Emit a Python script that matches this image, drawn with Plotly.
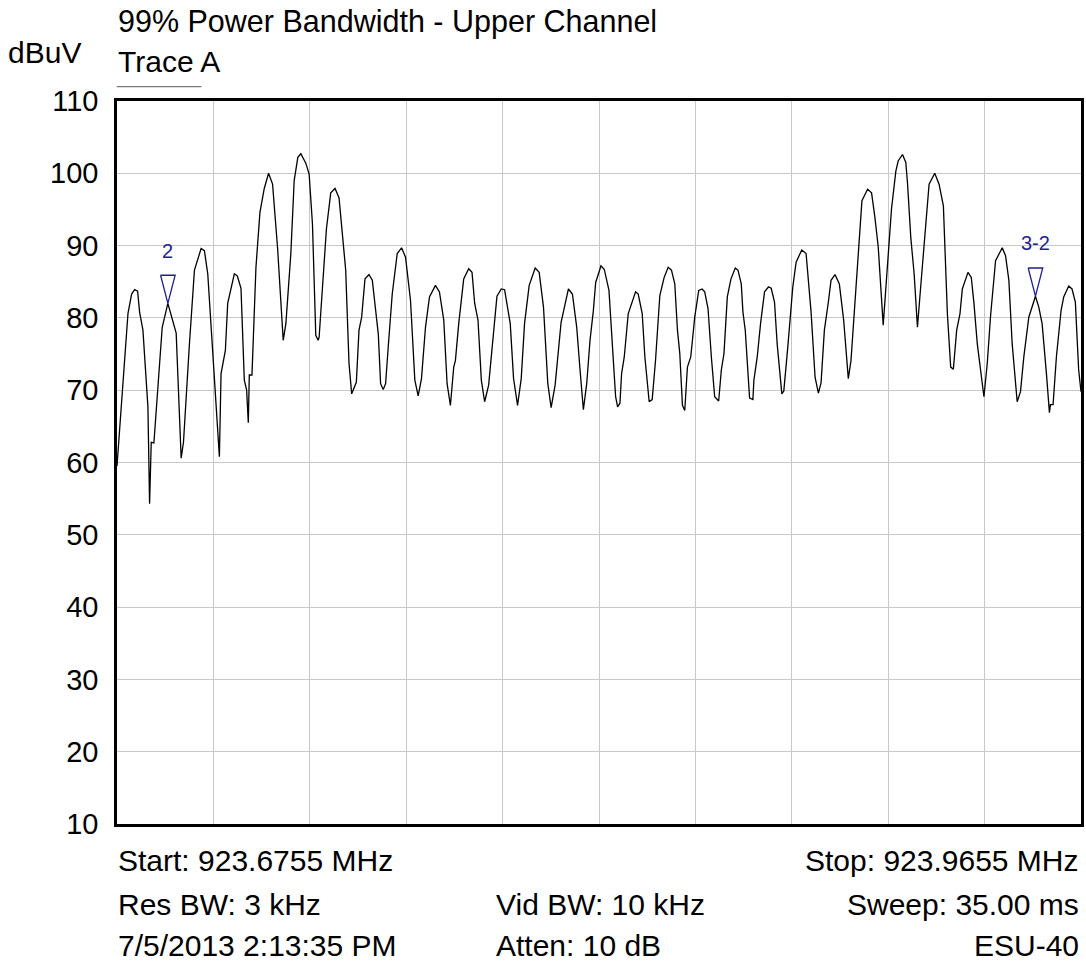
import plotly.graph_objects as go

# ---- data ----
start_mhz = 923.6755
stop_mhz = 923.9655

# offsets from start frequency, kHz
offset_khz = [
    0.0, 2.3, 3.3, 4.4, 5.3, 6.2, 6.8, 7.8, 9.3, 9.8, 10.3, 11.1, 12.8, 13.6, 15.3, 16.8, 17.8, 19.3, 20.0, 21.8,
    23.3, 25.3, 26.3, 27.3, 28.8, 30.8, 31.3, 32.6, 33.3, 35.3, 36.2, 37.3, 38.3, 39.0, 39.5, 39.8, 40.6, 41.8, 43.0, 44.3,
    45.6, 46.8, 48.3, 49.3, 50.0, 50.8, 52.3, 53.3, 54.4, 55.3, 56.8, 57.8, 58.8, 59.8, 60.5, 60.8, 63.0, 64.3, 65.6, 66.8,
    68.8, 69.8, 70.6, 72.0, 72.8, 73.6, 74.6, 75.8, 76.8, 78.6, 79.3, 80.1, 80.8, 81.6, 82.8, 84.3, 85.6, 86.8, 88.3, 89.6,
    90.6, 91.6, 92.8, 94.0, 95.8, 97.0, 98.3, 99.3, 100.3, 101.3, 101.8, 102.8, 104.3, 105.8, 106.8, 107.6, 108.6, 109.6, 110.6, 111.8,
    113.3, 114.3, 115.6, 116.6, 118.3, 119.3, 120.5, 121.6, 122.6, 124.0, 125.8, 127.0, 128.3, 129.6, 130.6, 131.8, 133.6, 135.8, 137.0, 138.3,
    139.3, 140.3, 141.3, 142.3, 143.3, 144.0, 145.6, 146.6, 148.0, 148.8, 150.0, 150.6, 151.3, 151.8, 152.6, 153.8, 156.0, 156.8, 158.0, 158.8,
    160.1, 161.0, 162.0, 163.3, 164.6, 165.8, 166.8, 167.8, 168.6, 169.3, 170.1, 170.8, 171.6, 172.6, 173.8, 175.0, 176.0, 176.8, 177.8, 178.8,
    179.8, 181.0, 181.8, 182.6, 183.6, 184.7, 186.0, 186.8, 187.8, 188.3, 189.0, 190.3, 191.3, 191.6, 192.6, 193.6, 194.8, 196.0, 196.8, 197.8,
    198.6, 200.0, 200.6, 201.8, 203.3, 204.3, 206.0, 207.3, 208.8, 210.0, 211.0, 211.8, 212.8, 214.0, 214.8, 216.0, 217.3, 218.6, 219.3, 220.0,
    220.8, 221.8, 223.0, 224.1, 225.8, 227.0, 228.0, 229.0, 230.5, 231.3, 232.0, 233.0, 234.3, 235.0, 236.3, 237.3, 237.8, 238.8, 239.8, 240.8,
    241.6, 242.8, 244.3, 246.0, 247.3, 248.6, 249.8, 250.8, 251.6, 252.6, 253.6, 254.3, 256.0, 257.0, 257.8, 258.8, 260.8, 261.8, 262.8, 264.3,
    266.3, 267.3, 268.3, 269.3, 270.8, 271.8, 272.8, 274.3, 276.3, 277.3, 278.3, 279.6, 280.5, 280.8, 281.6, 282.6, 284.0, 284.8, 286.3, 287.3,
    288.3, 289.3, 290.0,
]

level_dbuv = [
    59.5, 74.1, 80.6, 83.3, 83.9, 83.7, 80.8, 78.3, 67.7, 54.3, 62.8, 62.7, 72.8, 78.7, 82.0, 79.7, 77.9, 60.6, 62.8, 76.5,
    86.6, 89.6, 89.3, 86.1, 74.6, 60.8, 72.3, 75.5, 82.0, 86.1, 85.8, 84.1, 71.4, 70.0, 65.5, 72.1, 72.1, 87.0, 94.6, 97.9,
    100.0, 98.5, 89.7, 82.8, 76.9, 79.2, 88.9, 99.0, 102.2, 102.7, 101.4, 99.9, 93.0, 77.6, 76.9, 77.3, 92.3, 97.3, 97.9, 96.6,
    86.6, 73.7, 69.5, 71.1, 78.3, 80.1, 85.4, 86.0, 85.2, 77.8, 70.9, 70.1, 70.9, 76.0, 83.3, 88.9, 89.7, 88.4, 82.4, 71.4,
    69.2, 71.6, 78.7, 82.9, 84.5, 83.6, 79.7, 70.9, 67.9, 73.2, 74.1, 79.2, 85.4, 86.8, 86.3, 82.0, 79.7, 71.4, 68.4, 70.7,
    78.7, 83.0, 84.0, 83.9, 79.2, 71.6, 67.9, 71.6, 79.2, 84.5, 86.9, 86.3, 81.5, 70.9, 67.6, 70.7, 79.4, 84.0, 83.3, 78.7,
    72.8, 67.3, 70.9, 76.9, 81.0, 84.9, 87.2, 86.7, 83.8, 77.4, 69.1, 67.7, 68.2, 72.3, 74.6, 80.6, 83.6, 83.3, 80.6, 74.6,
    68.4, 68.7, 74.1, 83.1, 85.6, 87.0, 86.6, 84.7, 78.3, 75.1, 67.9, 67.2, 73.2, 74.6, 80.1, 83.8, 84.0, 83.6, 81.3, 74.6,
    69.1, 68.5, 72.8, 75.1, 82.9, 85.4, 86.9, 86.6, 84.7, 80.8, 78.3, 68.9, 68.7, 71.4, 74.6, 79.2, 83.6, 84.3, 84.1, 82.2,
    76.4, 69.5, 69.9, 76.0, 84.3, 87.7, 89.4, 88.9, 80.8, 71.8, 69.6, 71.0, 78.3, 82.2, 85.2, 86.0, 84.7, 79.7, 76.0, 71.6,
    74.1, 80.6, 89.8, 96.2, 97.8, 97.3, 93.9, 89.8, 79.0, 84.3, 87.5, 95.1, 100.3, 101.7, 102.6, 101.5, 98.7, 91.1, 86.1, 78.7,
    83.3, 89.8, 98.5, 100.0, 98.5, 95.5, 80.6, 73.2, 72.9, 78.3, 80.6, 84.0, 86.3, 85.6, 82.0, 76.4, 69.1, 73.7, 80.3, 87.9,
    89.7, 88.6, 85.2, 76.4, 68.4, 69.8, 74.6, 80.1, 83.0, 81.5, 79.2, 72.3, 66.9, 68.0, 68.0, 74.6, 81.0, 82.9, 84.4, 84.0,
    82.2, 72.8, 69.8,
]

marker_names = ["2", "3-2"]
marker_offset_khz = [15.3, 276.3]
marker_level_dbuv = [82.0, 83.0]

y_ticks = [10, 20, 30, 40, 50, 60, 70, 80, 90, 100, 110]

title_text = "99% Power Bandwidth - Upper Channel"
unit_text = "dBuV"
trace_name = "Trace A"
info_left = ["Start: 923.6755 MHz", "Res BW: 3 kHz", "7/5/2013 2:13:35 PM"]
info_mid = ["", "Vid BW: 10 kHz", "Atten: 10 dB"]
info_right = ["Stop: 923.9655 MHz", "Sweep: 35.00 ms", "ESU-40"]

# ---- figure ----
W, H = 1086, 966
L, R, T, B = 117, 2, 101, 142
PW, PH = W - L - R, H - T - B

freq = [start_mhz + k / 1000.0 for k in offset_khz]
span = stop_mhz - start_mhz

FONT = "Liberation Sans, Arial, sans-serif"
NAVY = "#1e1e96"

fig = go.Figure()
fig.add_trace(go.Scatter(x=freq, y=level_dbuv, mode="lines",
                         line=dict(color="black", width=1.3), hoverinfo="skip",
                         showlegend=False))

# marker triangles (open, pointing down onto the trace)
tri_half_w = span * 7.3 / PW
tri_h = 3.9
for name, mk, lv in zip(marker_names, marker_offset_khz, marker_level_dbuv):
    f = start_mhz + mk / 1000.0
    fig.add_trace(go.Scatter(
        x=[f - tri_half_w, f + tri_half_w, f, f - tri_half_w],
        y=[lv + tri_h, lv + tri_h, lv, lv + tri_h],
        mode="lines", line=dict(color=NAVY, width=1.3),
        hoverinfo="skip", showlegend=False))
    fig.add_annotation(x=f, y=lv + tri_h + 3.4, xref="x", yref="y", text=name,
                       showarrow=False, xanchor="center", yanchor="middle",
                       font=dict(family="Liberation Sans Narrow, Arial Narrow, Liberation Sans", size=20, color=NAVY))


def px2x(px):
    return (px - L) / PW


def py2y(py):
    return (T + PH - py) / PH


def add_text(text, px, py, anchor="left", size=30):
    fig.add_annotation(x=px2x(px), y=py2y(py), xref="paper", yref="paper",
                       text=text, showarrow=False, xanchor=anchor, yanchor="middle",
                       font=dict(family=FONT, size=size, color="black"))


add_text(title_text, 116, 21.7, size=30.5)
add_text(unit_text, 6, 52.5)
add_text(trace_name, 116, 62)
fig.add_shape(type="line", xref="paper", yref="paper",
              x0=px2x(116.7), x1=px2x(201.7), y0=py2y(86.7), y1=py2y(86.7),
              line=dict(color="#555555", width=1))

rows_py = [860.5, 904, 945]
for txt, py in zip(info_left, rows_py):
    add_text(txt, 116, py, "left")
for txt, py in zip(info_mid, rows_py):
    if txt:
        add_text(txt, 495, py, "left")
for txt, py in zip(info_right, rows_py):
    add_text(txt, 1084, py, "right")

fig.update_layout(
    width=W, height=H,
    margin=dict(l=L, r=R, t=T, b=B, pad=0),
    paper_bgcolor="white", plot_bgcolor="white",
    showlegend=False,
    font=dict(family=FONT, color="black"),
)
fig.update_xaxes(range=[start_mhz, stop_mhz], tick0=start_mhz, dtick=span / 10,
                 showticklabels=False, ticks="", showgrid=True, gridcolor="#c8c8c8",
                 gridwidth=1, zeroline=False, showline=True, linecolor="black",
                 linewidth=2.5, mirror=True)
fig.update_yaxes(range=[10, 110], tickvals=y_ticks, ticktext=[str(v) for v in y_ticks],
                 ticks="outside", ticklen=0, ticklabelstandoff=10,
                 tickfont=dict(family=FONT, size=29, color="black"),
                 showgrid=True, gridcolor="#c8c8c8", gridwidth=1, zeroline=False,
                 showline=True, linecolor="black", linewidth=2.5, mirror=True)

fig.write_html("out.html", config={"displayModeBar": False},
               post_script="document.body.style.margin='0';document.body.style.overflow='hidden';")
